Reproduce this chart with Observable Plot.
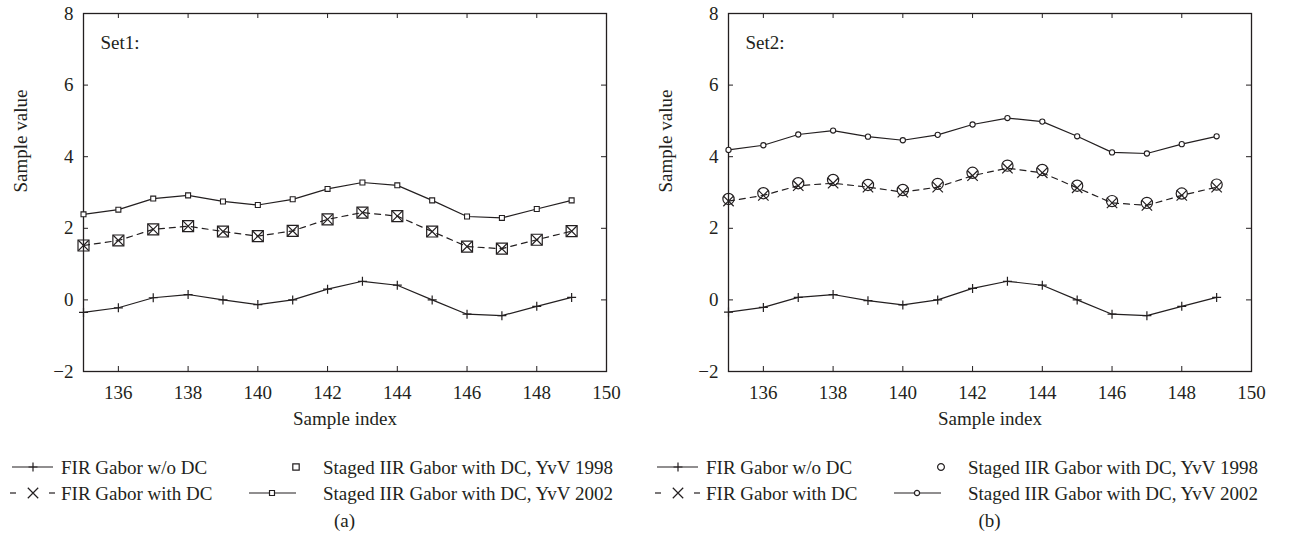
<!DOCTYPE html>
<html><head><meta charset="utf-8">
<script src="https://cdn.jsdelivr.net/npm/d3@7"></script>
<script src="https://cdn.jsdelivr.net/npm/@observablehq/plot@0.6"></script>
<style>
html,body{margin:0;padding:0;background:#fff}
body{width:1291px;height:550px;overflow:hidden;font-family:"Liberation Serif","Times New Roman",serif;color:#231f20}
#wrap{display:flex;width:1291px}
.panel{width:645px;height:550px;position:relative}
.panel svg{display:block}
.panel svg text{font-family:"Liberation Serif","Times New Roman",serif}
.legend{position:absolute;left:0;top:435px}
.caption{position:absolute;top:510px;font-size:19px;line-height:22px;transform:translateX(-50%)}
</style></head><body>
<div id="wrap"><div class="panel" id="pa"></div><div class="panel" id="pb" style="width:646px"></div></div>
<script>
// ---- data ----
const sampleIndex = [135,136,137,138,139,140,141,142,143,144,145,146,147,148,149];
const xTicks = [136,138,140,142,144,146,148,150];
const yTicks = [-2,0,2,4,6,8];

const set1FirNoDC  = [-0.35,-0.22,0.06,0.15,0.00,-0.13,0.00,0.30,0.52,0.41,0.00,-0.40,-0.44,-0.18,0.07];
const set1FirDC    = [1.52,1.66,1.97,2.06,1.91,1.78,1.93,2.25,2.44,2.34,1.91,1.49,1.43,1.68,1.92];
const set1Yvv1998  = [1.52,1.66,1.97,2.06,1.91,1.78,1.93,2.25,2.44,2.34,1.91,1.49,1.43,1.68,1.92];
const set1Yvv2002  = [2.39,2.52,2.83,2.92,2.75,2.65,2.81,3.10,3.28,3.20,2.78,2.33,2.29,2.54,2.78];

const set2FirNoDC  = [-0.34,-0.21,0.07,0.15,-0.02,-0.14,0.00,0.32,0.52,0.41,0.00,-0.40,-0.44,-0.18,0.07];
const set2FirDC    = [2.76,2.92,3.19,3.26,3.15,3.01,3.15,3.47,3.68,3.55,3.13,2.71,2.64,2.92,3.15];
const set2Yvv1998  = [2.82,2.98,3.26,3.35,3.21,3.07,3.24,3.55,3.75,3.63,3.19,2.76,2.71,2.97,3.22];
const set2Yvv2002  = [4.19,4.32,4.62,4.73,4.56,4.46,4.61,4.90,5.08,4.98,4.57,4.12,4.09,4.35,4.57];

const legendLabels = ["FIR Gabor w/o DC","FIR Gabor with DC","Staged IIR Gabor with DC, YvV 1998","Staged IIR Gabor with DC, YvV 2002"];

const INK = "#231f20";
const FONT = '"Liberation Serif", "Times New Roman", serif';

function makePanel(el, setLabel, noDC, dc, y98, y02, sym, caption) {
  const rows = sampleIndex.map((x,i)=>({x, noDC:noDC[i], dc:dc[i], y98:y98[i], y02:y02[i]}));
  const W = 645, H = 435, mL = 83, mR = 39, mT = 13, mB = 64;
  const pw = W-mL-mR, ph = H-mT-mB, tl = 5;
  const big = sym === "square" ? 6.2 : 5.6;
  const small = sym === "square" ? 2.8 : 2.6;
  const chart = Plot.plot({
    width: W, height: H, marginLeft: mL, marginRight: mR, marginTop: mT, marginBottom: mB,
    style: {fontFamily: FONT, fontSize: "19px", color: INK, background: "white"},
    x: {domain: [135,150]},
    y: {domain: [-2,8]},
    marks: [
      Plot.axisX(xTicks, {tickSize: 0, tickPadding: 14, label: null, fontSize: 19}),
      Plot.axisY(yTicks, {tickSize: 0, tickPadding: 10, label: null, fontSize: 19}),
      Plot.tickX(xTicks, {x: d=>d, insetTop: ph-tl, stroke: INK, strokeWidth: 1}),
      Plot.tickX(xTicks, {x: d=>d, insetBottom: ph-tl, stroke: INK, strokeWidth: 1}),
      Plot.tickY(yTicks, {y: d=>d, insetRight: pw-tl, stroke: INK, strokeWidth: 1}),
      Plot.tickY(yTicks, {y: d=>d, insetLeft: pw-tl, stroke: INK, strokeWidth: 1}),
      Plot.frame({stroke: INK, strokeWidth: 1.3}),
      Plot.line(rows, {x: "x", y: "noDC", stroke: INK, strokeWidth: 1.2}),
      Plot.line(rows, {x: "x", y: "dc", stroke: INK, strokeWidth: 1.2, strokeDasharray: "6,5"}),
      Plot.line(rows, {x: "x", y: "y02", stroke: INK, strokeWidth: 1.2}),
      Plot.dot(rows, {x: "x", y: "noDC", symbol: "plus", r: 3, stroke: INK, strokeWidth: 1.2}),
      Plot.dot(rows, {x: "x", y: "dc", symbol: "times", r: 4.8, stroke: INK, strokeWidth: 1.2}),
      Plot.dot(rows, {x: "x", y: "y98", symbol: sym, r: big, fill: "none", stroke: INK, strokeWidth: 1.2}),
      Plot.dot(rows, {x: "x", y: "y02", symbol: sym, r: small, fill: "white", stroke: INK, strokeWidth: 1.1}),
      Plot.text([setLabel], {text: d=>d, frameAnchor: "top-left", dx: 17, dy: 22, textAnchor: "start", fill: INK, fontSize: 19}),
      Plot.text(["Sample index"], {text: d=>d, frameAnchor: "bottom", dy: 53, fill: INK, fontSize: 19}),
      Plot.text(["Sample value"], {text: d=>d, frameAnchor: "left", dx: -63, rotate: -90, fill: INK, fontSize: 19})
    ]
  });
  el.appendChild(chart);

  // legend
  const lg = d3.select(el).append("svg").attr("class","legend").attr("width", W).attr("height", 75)
    .style("font-family", FONT).style("font-size","19px");
  const r1 = 32, r2 = 58;
  const g = lg.append("g").attr("stroke", INK).attr("fill","none").attr("stroke-width",1.2);
  // FIR w/o DC : line + plus
  g.append("line").attr("x1",12).attr("x2",53).attr("y1",r1).attr("y2",r1);
  g.append("path").attr("d", d3.symbol(d3.symbolPlus, Math.PI*9)()).attr("transform",`translate(33,${r1})`);
  // FIR with DC : dashes + times
  g.append("line").attr("x1",10).attr("x2",16).attr("y1",r2).attr("y2",r2);
  g.append("line").attr("x1",49).attr("x2",55).attr("y1",r2).attr("y2",r2);
  g.append("path").attr("d", d3.symbol(d3.symbolTimes, Math.PI*4.8*4.8)()).attr("transform",`translate(33,${r2})`);
  // YvV 1998 : big symbol only
  const bigSym = sym === "square" ? d3.symbolSquare : d3.symbolCircle;
  g.append("path").attr("d", d3.symbol(bigSym, Math.PI*(sym==="square"?3.6*3.6:3.4*3.4))()).attr("transform",`translate(296,${r1})`);
  // YvV 2002 : line + small symbol
  g.append("line").attr("x1",249).attr("x2",296).attr("y1",r2).attr("y2",r2);
  g.append("path").attr("d", d3.symbol(bigSym, Math.PI*small*small)()).attr("fill","white").attr("transform",`translate(272,${r2})`);
  const t = lg.append("g").attr("fill", INK).attr("dominant-baseline","central");
  t.append("text").attr("x",61).attr("y",r1).text(legendLabels[0]);
  t.append("text").attr("x",61).attr("y",r2).text(legendLabels[1]);
  t.append("text").attr("x",323).attr("y",r1).text(legendLabels[2]);
  t.append("text").attr("x",323).attr("y",r2).text(legendLabels[3]);

  d3.select(el).append("div").attr("class","caption").style("left", (mL + pw/2) + "px").text(caption);
}

makePanel(document.getElementById("pa"), "Set1:", set1FirNoDC, set1FirDC, set1Yvv1998, set1Yvv2002, "square", "(a)");
makePanel(document.getElementById("pb"), "Set2:", set2FirNoDC, set2FirDC, set2Yvv1998, set2Yvv2002, "circle", "(b)");
</script>
</body></html>
